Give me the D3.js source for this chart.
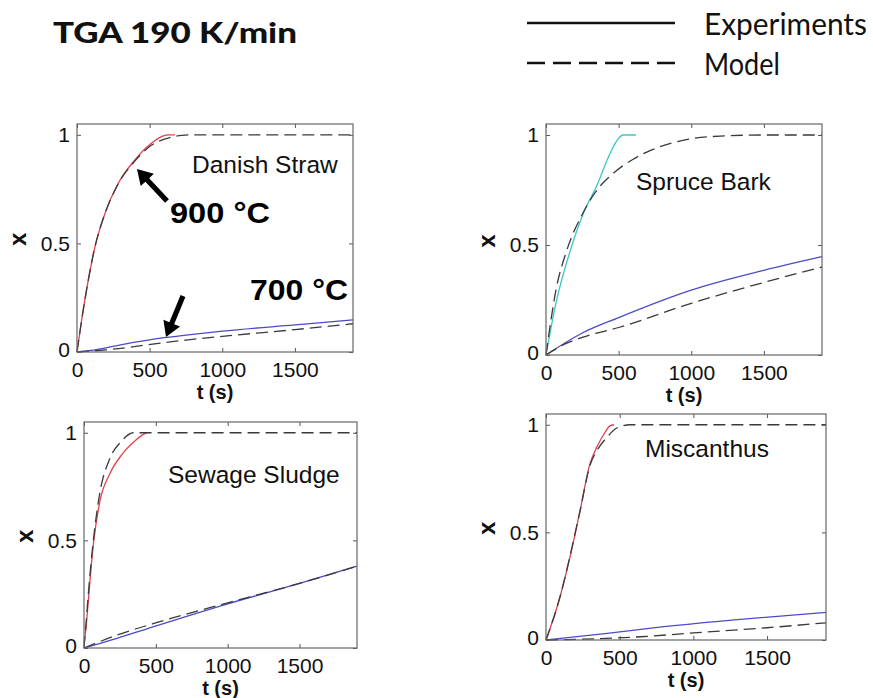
<!DOCTYPE html>
<html>
<head>
<meta charset="utf-8">
<script src="https://cdn.jsdelivr.net/npm/d3@7/dist/d3.min.js"></script>
<style>
  html, body { margin: 0; padding: 0; background: #fff; }
  svg { display: block; }
</style>
</head>
<body>
<svg id="chart" width="873" height="698"></svg>
<script>
// ---------------- DATA ----------------
const titleText = "TGA 190 K/min";
const legendLabels = ["Experiments", "Model"];
const panelNames = ["Danish Straw", "Spruce Bark", "Sewage Sludge", "Miscanthus"];
const xTicks = [0, 500, 1000, 1500];
const yTicks = [0, 0.5, 1];
const yTickLabels = ["0", "0.5", "1"];
const xLabel = "t (s)";
const yLabel = "x";
const xMax = 1900;
const yMax = 1.05;

// Danish Straw
const strawFastExp = [[0,0],[32,0.147],[78,0.332],[124,0.485],[193,0.639],[284,0.777],[399,0.885],[514,0.962],[594,0.995],[630,1.0],[674,1.0]];
const strawFastModel = [[0,0],[32,0.147],[78,0.332],[124,0.485],[193,0.639],[284,0.775],[399,0.88],[514,0.953],[628,0.985],[720,0.998],[800,1.0],[1900,1.0]];
const strawSlowExp = [[0,0],[100,0.007],[300,0.033],[600,0.066],[750,0.078],[1000,0.096],[1500,0.125],[1900,0.148]];
const strawSlowModel = [[0,0],[200,0.01],[600,0.043],[750,0.055],[1000,0.072],[1500,0.103],[1900,0.13]];

// Spruce Bark
const spruceFastExp = [[0,0],[70,0.24],[165,0.47],[255,0.64],[350,0.77],[440,0.915],[500,0.985],[530,1.0],[620,1.0]];
const spruceFastModel = [[0,0],[70,0.3],[140,0.47],[250,0.64],[340,0.74],[480,0.835],[600,0.89],[720,0.93],[950,0.977],[1200,0.995],[1500,1.0],[1900,1.0]];
const spruceSlowExp = [[0,0],[250,0.1],[500,0.17],[1000,0.295],[1500,0.385],[1900,0.447]];
const spruceSlowModel = [[0,0],[100,0.04],[250,0.08],[500,0.125],[1000,0.235],[1500,0.33],[1900,0.40]];

// Sewage Sludge
const sludgeFastExp = [[0,0.02],[15,0.1],[30,0.22],[65,0.48],[110,0.68],[180,0.81],[265,0.9],[360,0.965],[420,0.995],[440,1.0]];
const sludgeFastModel = [[0,0],[15,0.12],[30,0.25],[65,0.5],[110,0.72],[180,0.88],[260,0.96],[343,1.0],[1900,1.0]];
const sludgeSlowExp = [[0,0],[230,0.045],[480,0.098],[1000,0.205],[1500,0.3],[1900,0.38]];
const sludgeSlowModel = [[0,0],[230,0.06],[480,0.113],[1000,0.21],[1500,0.3],[1900,0.38]];

// Miscanthus
const miscFastExp = [[0,0],[95,0.2],[163,0.386],[231,0.6],[298,0.818],[344,0.895],[400,0.964],[434,0.995],[461,1.0]];
const miscFastModel = [[0,0],[95,0.2],[163,0.39],[231,0.6],[298,0.81],[350,0.885],[412,0.94],[480,0.985],[570,1.0],[1900,1.0]];
const miscSlowExp = [[0,0],[400,0.03],[800,0.062],[1300,0.095],[1900,0.128]];
const miscSlowModel = [[0,0],[640,0.015],[1000,0.033],[1500,0.057],[1900,0.08]];

const panelSeries = [
  [strawFastExp, strawFastModel, strawSlowExp, strawSlowModel],
  [spruceFastExp, spruceFastModel, spruceSlowExp, spruceSlowModel],
  [sludgeFastExp, sludgeFastModel, sludgeSlowExp, sludgeSlowModel],
  [miscFastExp, miscFastModel, miscSlowExp, miscSlowModel]
];
const fastColors = ["#e2404e", "#3cc6c6", "#e2404e", "#e2404e"];
const slowColor = "#4b4bc8";
const annotations = ["900 °C", "700 °C"];

// ---------------- LAYOUT ----------------
const panelBoxes = [
  {l: 77,  r: 353, t: 124, b: 352, titleX: 192, titleY: 173},
  {l: 546, r: 822, t: 124, b: 355, titleX: 636, titleY: 190},
  {l: 84,  r: 357, t: 422, b: 648, titleX: 168, titleY: 483},
  {l: 546, r: 826, t: 414, b: 640, titleX: 645, titleY: 457}
];

const svg = d3.select("#chart");
const tickFont = "'Liberation Sans', Arial, sans-serif";

// Title
svg.append("text")
  .attr("x", 53).attr("y", 43)
  .attr("font-family", "Lato, 'Open Sans', sans-serif")
  .attr("font-weight", "900").attr("font-size", 28)
  .attr("textLength", 244).attr("lengthAdjust", "spacingAndGlyphs")
  .attr("fill", "#111")
  .text(titleText);

// Legend
const legendY = [23, 63];
legendY.forEach((y, i) => {
  svg.append("line")
    .attr("x1", 527).attr("x2", 675).attr("y1", y).attr("y2", y)
    .attr("stroke", "#111").attr("stroke-width", 2.4)
    .attr("stroke-dasharray", i === 1 ? "18,8" : null);
  svg.append("text")
    .attr("x", 704).attr("y", y + 12)
    .attr("font-family", "Lato, 'Open Sans', sans-serif")
    .attr("font-size", 30)
    .attr("textLength", i === 0 ? 163 : 76).attr("lengthAdjust", "spacingAndGlyphs")
    .attr("fill", "#111")
    .text(legendLabels[i]);
});

// Panels
panelBoxes.forEach((box, pi) => {
  const x = d3.scaleLinear().domain([0, xMax]).range([box.l, box.r]);
  const y = d3.scaleLinear().domain([0, yMax]).range([box.b, box.t]);
  const g = svg.append("g");

  const line = d3.line().x(d => x(d[0])).y(d => y(d[1])).curve(d3.curveMonotoneX);
  const series = panelSeries[pi];

  g.append("path").datum(series[2]).attr("d", line)
    .attr("fill", "none").attr("stroke", slowColor).attr("stroke-width", 1.3);
  g.append("path").datum(series[0]).attr("d", line)
    .attr("fill", "none").attr("stroke", fastColors[pi]).attr("stroke-width", 1.3);
  [series[1], series[3]].forEach(s => {
    g.append("path").datum(s).attr("d", line)
      .attr("fill", "none").attr("stroke", "#3a3a3a").attr("stroke-width", 1.3)
      .attr("stroke-dasharray", "12,6");
  });

  const axB = g.append("g").attr("transform", `translate(0,${box.b})`)
    .call(d3.axisBottom(x).tickValues(xTicks).tickSize(-4).tickPadding(10).tickFormat(d3.format("d")));
  const axL = g.append("g").attr("transform", `translate(${box.l},0)`)
    .call(d3.axisLeft(y).tickValues(yTicks).tickSize(-4).tickPadding(7).tickFormat((d, i) => yTickLabels[i]));
  const axT = g.append("g").attr("transform", `translate(0,${box.t})`)
    .call(d3.axisTop(x).tickValues(xTicks).tickSize(-4).tickFormat(""));
  const axR = g.append("g").attr("transform", `translate(${box.r},0)`)
    .call(d3.axisRight(y).tickValues(yTicks).tickSize(-4).tickFormat(""));
  [axB, axL, axT, axR].forEach(a => {
    a.select(".domain").remove();
    a.selectAll("line").attr("stroke", "#555");
    a.selectAll("text").attr("font-family", tickFont).attr("font-size", 21).attr("fill", "#111");
  });
  axL.selectAll("text").filter(d => d === 0).attr("dy", "0.2em");

  g.append("rect")
    .attr("x", box.l).attr("y", box.t)
    .attr("width", box.r - box.l).attr("height", box.b - box.t)
    .attr("fill", "none").attr("stroke", "#666").attr("stroke-width", 1.2);

  g.append("text")
    .attr("x", box.titleX).attr("y", box.titleY)
    .attr("font-family", tickFont).attr("font-size", 24.5).attr("fill", "#111")
    .text(panelNames[pi]);

  g.append("text")
    .attr("x", (box.l + box.r) / 2).attr("y", box.b + 47)
    .attr("text-anchor", "middle")
    .attr("font-family", tickFont).attr("font-weight", "bold").attr("font-size", 20).attr("fill", "#111")
    .text(xLabel);
  g.append("text")
    .attr("transform", `translate(${box.l - 60},${y(0.5) - 4}) rotate(-90)`)
    .attr("text-anchor", "middle").attr("dominant-baseline", "central")
    .attr("font-family", tickFont).attr("font-weight", "bold").attr("font-size", 24).attr("fill", "#111")
    .text(yLabel);
});

// Annotations (Danish Straw panel)
svg.append("text")
  .attr("x", 170).attr("y", 223)
  .attr("font-family", tickFont).attr("font-weight", "bold").attr("font-size", 30)
  .attr("textLength", 100).attr("lengthAdjust", "spacingAndGlyphs")
  .attr("fill", "#000").text(annotations[0]);
svg.append("text")
  .attr("x", 250).attr("y", 300)
  .attr("font-family", tickFont).attr("font-weight", "bold").attr("font-size", 30)
  .attr("textLength", 98).attr("lengthAdjust", "spacingAndGlyphs")
  .attr("fill", "#000").text(annotations[1]);

function arrow(x1, y1, x2, y2) {
  const dx = x2 - x1, dy = y2 - y1, len = Math.hypot(dx, dy);
  const ux = dx / len, uy = dy / len, nx = -uy, ny = ux;
  const hl = 15, hw = 9, sw = 2.6;
  const bx = x2 - ux * hl, by = y2 - uy * hl;
  const pts = [
    [x1 + nx * sw, y1 + ny * sw], [bx + nx * sw, by + ny * sw], [bx + nx * hw, by + ny * hw],
    [x2, y2], [bx - nx * hw, by - ny * hw], [bx - nx * sw, by - ny * sw], [x1 - nx * sw, y1 - ny * sw]
  ];
  svg.append("path").attr("d", "M" + pts.map(p => p.join(",")).join("L") + "Z").attr("fill", "#000");
}
arrow(167, 201, 137, 169);
arrow(183, 296, 166, 337);
</script>
</body>
</html>
